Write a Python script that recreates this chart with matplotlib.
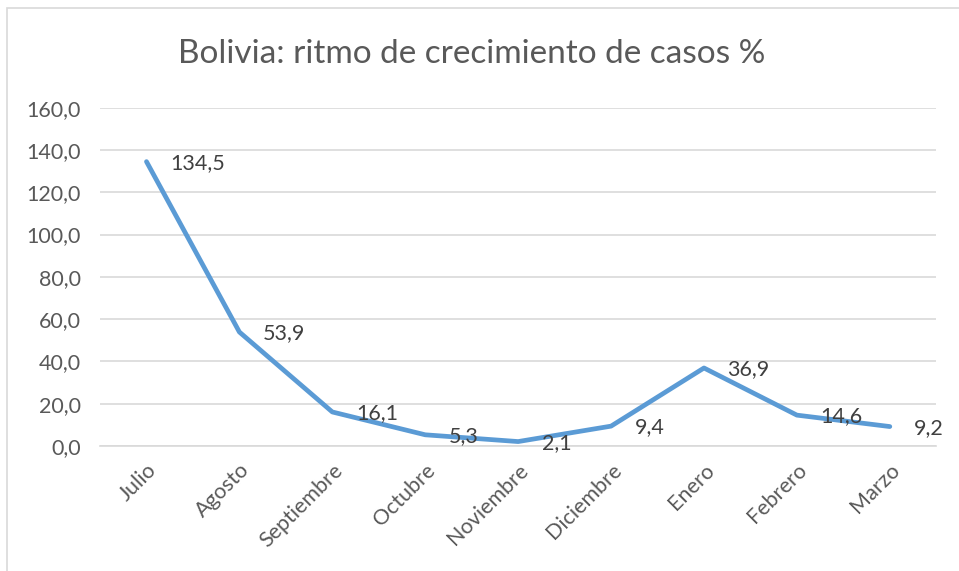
import matplotlib
matplotlib.use("Agg")
import matplotlib.pyplot as plt
from matplotlib.patches import Rectangle
from matplotlib.ticker import FuncFormatter

meses = ["Julio", "Agosto", "Septiembre", "Octubre", "Noviembre",
         "Diciembre", "Enero", "Febrero", "Marzo"]
ritmo = [134.5, 53.9, 16.1, 5.3, 2.1, 9.4, 36.9, 14.6, 9.2]
yticks = [0, 20, 40, 60, 80, 100, 120, 140, 160]

def coma(v, pos=None):
    return ("%.1f" % v).replace(".", ",")

plt.rcParams['font.family'] = ['Lato', 'DejaVu Sans']

fig = plt.figure(figsize=(9.59, 5.71), dpi=100)
ax = fig.add_axes([0.1043, 0.2189, 0.872, 0.5925])

# marco exterior del gráfico
fig.patches.append(Rectangle((7 / 959, -0.05), 1.1, 1 - 8 / 571 + 0.05,
                             transform=fig.transFigure, fill=False,
                             edgecolor="#d9d9d9", linewidth=1.2))

x = list(range(len(meses)))
ax.plot(x, ritmo, color="#5b9bd5", linewidth=3.4, solid_capstyle="round",
        solid_joinstyle="round", zorder=3)

for xi, v in zip(x, ritmo):
    ax.annotate(coma(v), (xi, v), xytext=(17, -1), textcoords="offset points",
                ha="left", va="center", fontsize=15.5, color="#404040", zorder=4)

ax.set_xlim(-0.5, len(meses) - 0.5)
ax.set_ylim(0, 160)
ax.set_yticks(yticks)
ax.yaxis.set_major_formatter(FuncFormatter(coma))
ax.set_xticks(x)
ax.set_xticklabels(meses, rotation=45, ha="right", rotation_mode="anchor")
ax.tick_params(axis="both", length=0, labelsize=15.5, labelcolor="#595959")
ax.tick_params(axis="y", pad=14)
ax.tick_params(axis="x", pad=10)
ax.grid(axis="y", color="#d9d9d9", linewidth=1.2)
ax.set_axisbelow(True)
for s in ax.spines.values():
    s.set_visible(False)
ax.spines["bottom"].set_visible(True)
ax.spines["bottom"].set_color("#d9d9d9")
ax.spines["bottom"].set_linewidth(1.2)

fig.text(0.492, 0.905, "Bolivia: ritmo de crecimiento de casos %",
         ha="center", va="center", fontsize=24, color="#595959")

fig.savefig("out.png", dpi=100)
